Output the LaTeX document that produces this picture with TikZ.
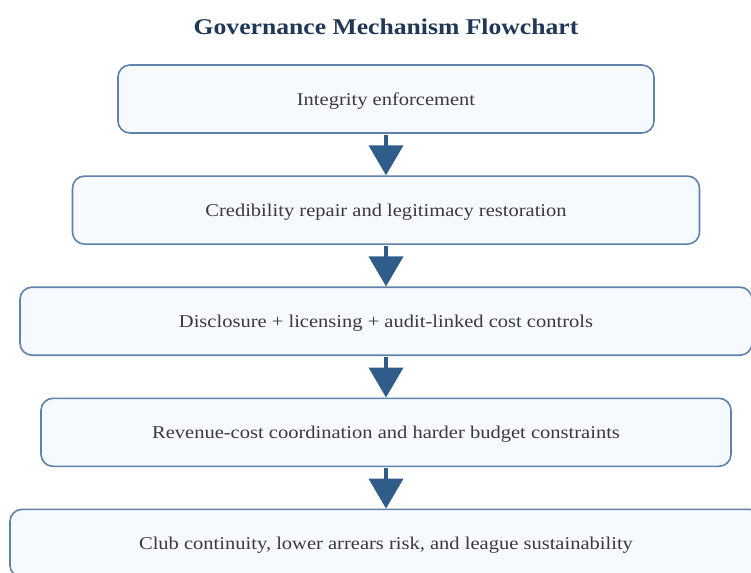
\documentclass[tikz,border=0pt]{standalone}
\usepackage{fontspec}
\setmainfont{Liberation Serif}[FakeStretch=1.14]
\usetikzlibrary{arrows.meta,positioning}
\definecolor{edgeblue}{HTML}{5F82AB}
\definecolor{boxfill}{HTML}{F6F9FE}
\definecolor{arrowblue}{HTML}{2F5C89}
\definecolor{titleblue}{HTML}{1F3857}
\definecolor{textgray}{HTML}{3A3A3A}
\tikzset{
	box/.style={draw=edgeblue, line width=1.6pt, rounded corners=12pt, fill=boxfill, align=center, minimum height=68pt, text depth=0pt, text=textgray, font=\fontsize{18}{21}\selectfont},
	flow/.style={-{Triangle[width=34pt, length=30pt]}, line width=4pt, draw=arrowblue, fill=arrowblue, shorten <=1pt},
	heading/.style={font=\fontsize{22.5}{26}\selectfont\bfseries, text=titleblue}
}

\begin{document}
\begin{tikzpicture}[x=1pt, y=-1pt, node distance=41.5pt]
	\useasboundingbox (0,0) rectangle (751,572);
	\node[heading] (title) at (386,27) {Governance Mechanism Flowchart};
	\node[box, minimum width=536pt] (integrity) at (386,99) {Integrity enforcement};
	\node[box, minimum width=627pt, below=of integrity] (credibility) {Credibility repair and legitimacy restoration};
	\node[box, minimum width=732pt, below=of credibility] (disclosure) {Disclosure + licensing + audit-linked cost controls};
	\node[box, minimum width=690pt, below=of disclosure] (revenue) {Revenue-cost coordination and harder budget constraints};
	\node[box, minimum width=752pt, below=of revenue] (continuity) {Club continuity, lower arrears risk, and league sustainability};
	\draw[flow] (integrity) -- (credibility);
	\draw[flow] (credibility) -- (disclosure);
	\draw[flow] (disclosure) -- (revenue);
	\draw[flow] (revenue) -- (continuity);
\end{tikzpicture}
\end{document}
